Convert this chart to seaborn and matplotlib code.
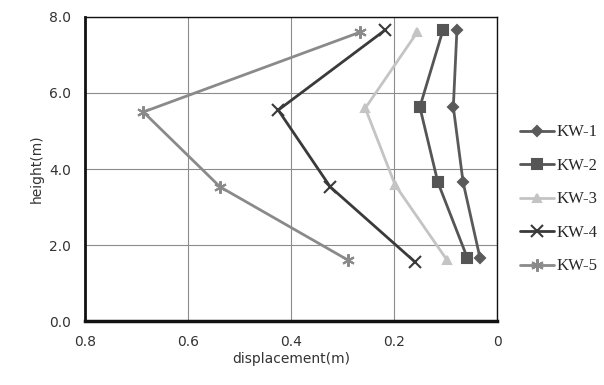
import pandas as pd
import matplotlib
matplotlib.use("Agg")
import matplotlib.pyplot as plt
import seaborn as sns

# displacement (m) vs height (m) per wall
names = ["KW-1", "KW-2", "KW-3", "KW-4", "KW-5"]
kw1_h = [1.65, 3.65, 5.63, 7.66]
kw1_d = [0.033, 0.066, 0.085, 0.078]
kw2_h = [1.67, 3.65, 5.63, 7.66]
kw2_d = [0.058, 0.115, 0.150, 0.105]
kw3_h = [1.6, 3.58, 5.6, 7.6]
kw3_d = [0.097, 0.198, 0.256, 0.155]
kw4_h = [1.55, 3.53, 5.55, 7.66]
kw4_d = [0.159, 0.324, 0.425, 0.217]
kw5_h = [1.6, 3.53, 5.5, 7.6]
kw5_d = [0.289, 0.538, 0.687, 0.266]

x_ticks = [0.8, 0.6, 0.4, 0.2, 0.0]
x_labels = ["0.8", "0.6", "0.4", "0.2", "0"]
y_ticks = [0, 2, 4, 6, 8]
y_labels = ["0.0", "2.0", "4.0", "6.0", "8.0"]

heights = [kw1_h, kw2_h, kw3_h, kw4_h, kw5_h]
disps = [kw1_d, kw2_d, kw3_d, kw4_d, kw5_d]
rows = []
for n, hs, ds in zip(names, heights, disps):
    for i, (h, d) in enumerate(zip(hs, ds)):
        rows.append({"wall": n, "height": h, "disp": d, "order": i})
df = pd.DataFrame(rows)

colors = {"KW-1": "#5a5a5a", "KW-2": "#555555", "KW-3": "#c4c4c4",
          "KW-4": "#3a3a3a", "KW-5": "#8a8a8a"}
markers = {"KW-1": "D", "KW-2": "s", "KW-3": "^", "KW-4": "x", "KW-5": (6, 2, 0)}
msize = {"KW-1": 5, "KW-2": 7, "KW-3": 6, "KW-4": 8, "KW-5": 9}

sns.set_style("white")
plt.rcParams["font.family"] = ["DejaVu Sans"]

fig = plt.figure(figsize=(6.04, 3.85), dpi=100)
ax = fig.add_axes([0.141, 0.166, 0.682, 0.79])

for n in names:
    sub = df[df["wall"] == n]
    sns.lineplot(data=sub, x="disp", y="height", sort=False, ax=ax,
                 color=colors[n], marker=markers[n], markersize=msize[n],
                 markeredgecolor=colors[n], markeredgewidth=1.5,
                 linewidth=2.0, label=n)

ax.set_xlim(0.8, 0.0)
ax.set_ylim(0, 8)
ax.set_xticks(x_ticks)
ax.set_xticklabels(x_labels)
ax.set_yticks(y_ticks)
ax.set_yticklabels(y_labels)
ax.tick_params(length=0, labelsize=10, colors="#333333", pad=10)
ax.grid(True, color="#8c8c8c", linewidth=0.8)
ax.set_xlabel("displacement(m)", fontsize=10, color="#333333", labelpad=2)
ax.set_ylabel("height(m)", fontsize=10, color="#333333")

for s in ax.spines.values():
    s.set_color("#111111")
    s.set_linewidth(1.0)
ax.spines["left"].set_linewidth(2.0)
ax.spines["bottom"].set_linewidth(2.5)

leg = ax.legend(loc="center left", bbox_to_anchor=(1.02, 0.40), frameon=False,
                prop={"family": "Liberation Serif", "size": 12},
                handlelength=2.0, labelspacing=1.05, handletextpad=0.2)

fig.savefig("out.png", dpi=100)
